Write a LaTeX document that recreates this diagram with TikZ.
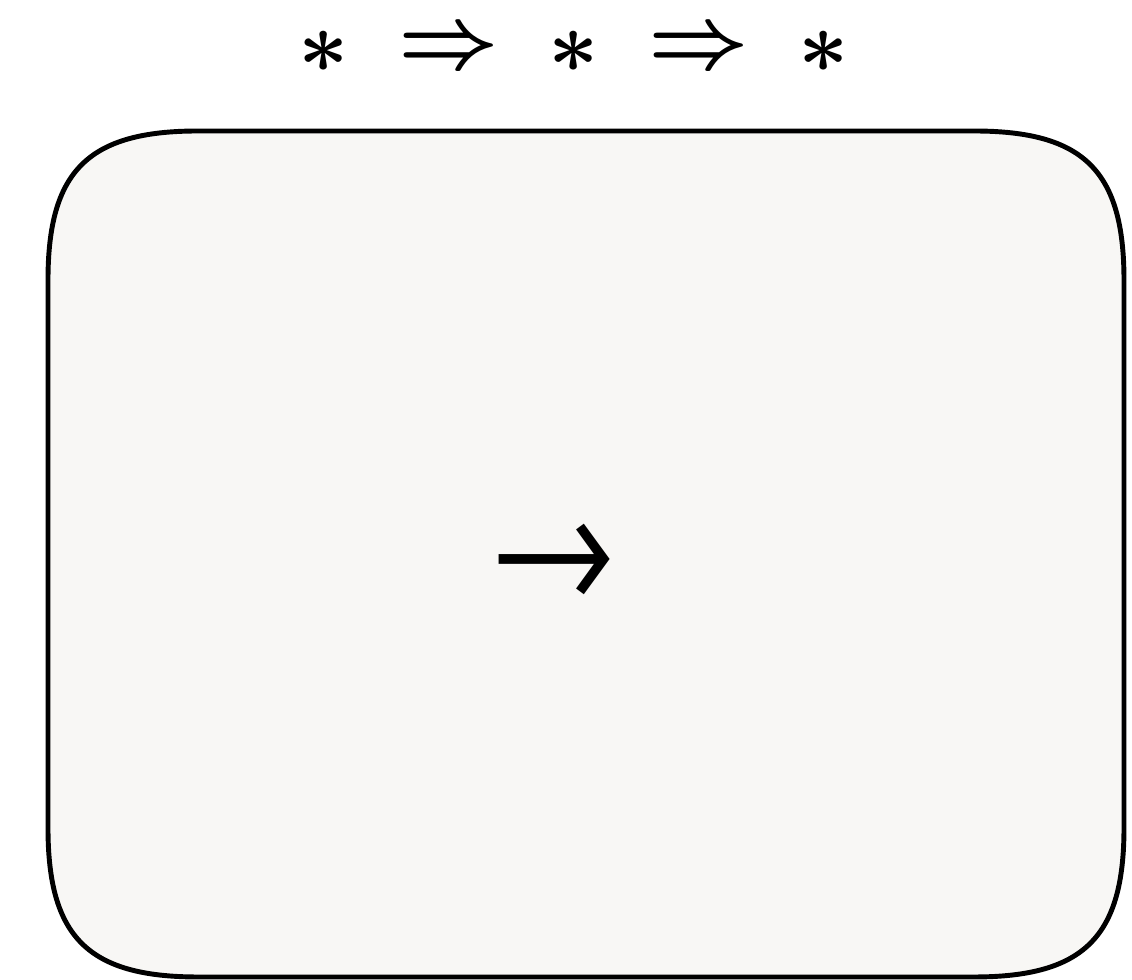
\documentclass[tikz,border=0pt]{standalone}
\usepackage{fontspec}
\newfontfamily\arrowfont{TeX Gyre Heros}
\usetikzlibrary{positioning}
\definecolor{paper}{RGB}{248,247,245}

\begin{document}
\begin{tikzpicture}[x=0.01cm,y=-0.01cm,
    sym/.style={inner sep=0pt,font=\fontsize{36}{43}\selectfont\boldmath},
    panel/.style={draw=black,fill=paper,line width=1.4pt}]
        \useasboundingbox (0,0) rectangle (1132,980);
        \foreach \x/\n in {323.5/ast1,573.5/ast2,823.5/ast3} \node[sym] (\n) at (\x,52) {$\ast$};
        \foreach \x/\n in {448.5/imp1,698.5/imp2} \node[sym] (\n) at (\x,50) {$\Rightarrow$};
        % box with soft corners
        \draw[panel] (48,280) .. controls (48,171) and (88,131) .. (198,131) -- (974,131)
          .. controls (1084,131) and (1124,171) .. (1124,280) -- (1124,828)
          .. controls (1124,937) and (1084,977) .. (974,977) -- (198,977)
          .. controls (88,977) and (48,937) .. (48,828) -- cycle;
        \node[inner sep=0pt,font=\arrowfont\fontsize{41}{49}\selectfont] (to) at (552,560) {→};
      \end{tikzpicture}
\end{document}
